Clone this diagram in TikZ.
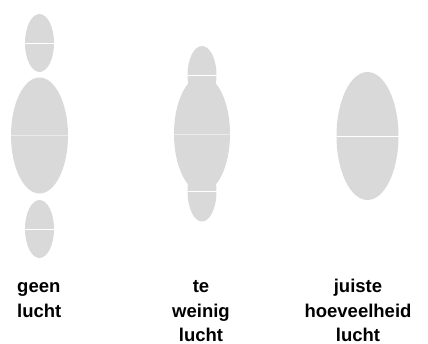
\documentclass[tikz,border=0pt]{standalone}
\usepackage{fontspec}
\setmainfont{Liberation Sans}
\usetikzlibrary{shapes.geometric}
\definecolor{blob}{RGB}{217,217,217}
\definecolor{faint}{RGB}{234,234,234}
\tikzset{
  blobshape/.style={ellipse, fill=blob, draw=none, inner sep=0pt, outer sep=0pt},
  small/.style={blobshape, minimum width=29pt, minimum height=58pt},
  seam/.style={draw=white, line width=1pt},
  faintseam/.style={draw=faint, line width=1pt},
  lbl/.style={font=\fontsize{18.5}{24.5}\selectfont\bfseries, inner sep=0pt, anchor=base}
}
\begin{document}
\begin{tikzpicture}[x=1pt,y=-1pt]
\useasboundingbox (0,0) rectangle (428,343);
% left: geen lucht
\node[small] (l1) at (39.5,43) {};
\node[blobshape, minimum width=57pt, minimum height=116pt] (l2) at (39.5,135.5) {};
\node[small] (l3) at (39.5,229) {};
\draw[seam] (l1.west) -- (l1.east);
\draw[faintseam] (l2.west) -- (l2.east);
\draw[seam] (l3.west) -- (l3.east);
% middle: te weinig lucht
\node[blobshape, minimum width=56pt, minimum height=116pt] (m2) at (202,134) {};
\node[small] (m1) at (202,75) {};
\node[small, minimum height=60pt] (m3) at (202,191.5) {};
\draw[faintseam] (m2.west) -- (m2.east);
\draw[seam] (m1.west) -- (m1.east);
\draw[seam] (m3.west) -- (m3.east);
% right: juiste hoeveelheid lucht
\node[blobshape, minimum width=62pt, minimum height=128pt] (r1) at (367.5,136) {};
\draw[seam] (r1.west) -- (r1.east);
% labels (base anchor = baseline of last line)
\node[lbl, anchor=base west, align=left] (t1) at (17,317) {geen\\lucht};
\node[lbl, align=center] (t2) at (201,341.5) {te\\weinig\\lucht};
\node[lbl, align=center] (t3) at (358,341.5) {juiste\\hoeveelheid\\lucht};
\end{tikzpicture}
\end{document}
